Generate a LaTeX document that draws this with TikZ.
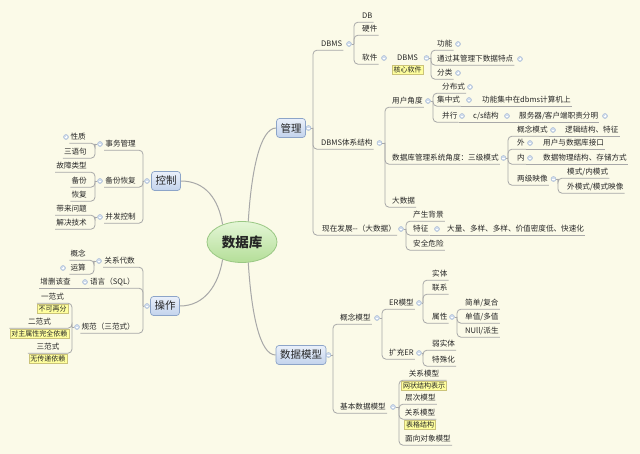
\documentclass[tikz,border=0pt]{standalone}
\usepackage{fontspec}
\setmainfont{Noto Sans CJK SC}
\usetikzlibrary{shapes.geometric}
\definecolor{bg}{HTML}{FBFAE8}
\definecolor{lnc}{HTML}{A8A8A8}
\definecolor{txt}{HTML}{262626}
\definecolor{labf}{HTML}{FFFF9E}
\definecolor{labd}{HTML}{CBC37A}
\definecolor{mtA}{HTML}{EAF0FA}
\definecolor{mtB}{HTML}{C3D3EC}
\definecolor{mtD}{HTML}{8CA4C8}
\definecolor{ctA}{HTML}{E4F6D6}
\definecolor{ctB}{HTML}{B4DE98}
\definecolor{ctD}{HTML}{9AC884}
\definecolor{ccf}{HTML}{D0DCEC}
\definecolor{ccd}{HTML}{A3B6D2}
\tikzset{
 tp/.style={font=\fontsize{7.6}{9}\selectfont, text=txt, inner xsep=1pt, inner ysep=1.5pt, text height=7pt, text depth=2pt},
 lab/.style={font=\fontsize{7}{8}\selectfont, text=txt, fill=labf, draw=labd, line width=0.5pt, inner xsep=1.5pt, inner ysep=0pt, minimum height=9pt, text height=6.5pt, text depth=1.5pt, anchor=north, yshift=-0.8pt},
 mt/.style={font=\fontsize{10.5}{12}\selectfont, text=txt, draw=mtD, line width=0.7pt, rounded corners=3pt, top color=mtA, bottom color=mtB, minimum height=19pt, inner xsep=4pt},
 ln/.style={draw=lnc, line width=0.8pt},
 sp/.style={ln, rounded corners=4pt},
 cv/.style={draw=lnc, line width=1pt},
 cmin/.style={circle, minimum size=5pt, inner sep=0pt, fill=ccf, draw=ccd, line width=0.4pt,
   path picture={\draw[white,line width=0.6pt] ([xshift=-1.4pt]path picture bounding box.center) -- ([xshift=1.4pt]path picture bounding box.center);}},
 cplus/.style={cmin,
   path picture={\draw[white,line width=0.6pt] ([xshift=-1.4pt]path picture bounding box.center) -- ([xshift=1.4pt]path picture bounding box.center) ([yshift=-1.4pt]path picture bounding box.center) -- ([yshift=1.4pt]path picture bounding box.center);}},
}
\begin{document}
\begin{tikzpicture}[x=1pt,y=-1pt]
\fill[bg] (0,0) rectangle (640,454);
\useasboundingbox (0,0) rectangle (640,454);

% ---------- central and main topics
\node[ellipse, minimum width=70pt, minimum height=41pt, draw=ctD, line width=0.8pt, top color=ctA, bottom color=ctB, font=\fontsize{13.5}{15}\selectfont\bfseries, text=txt] (c) at (242,242) {数据库};
\node[mt, minimum width=28pt] (glj) at (291,128) {管理};
\node[mt, minimum width=28pt] (kz) at (166,181) {控制};
\node[mt, minimum width=28pt] (cz) at (165,306) {操作};
\node[mt, minimum width=48pt] (sjmx) at (301,355) {数据模型};

\draw[cv] (c.73) .. controls +(3,-50) and +(-16,0) .. (glj.west);
\draw[cv] (kz.east) .. controls +(25,0) and +(-4,-25) .. (c.138);
\draw[cv] (c.222) .. controls +(-4,25) and +(25,0) .. (cz.east);
\draw[cv] (c.287) .. controls +(3,50) and +(-16,0) .. (sjmx.west);

% ---------- 管理
\node[cmin] (glj-c) at (308.5,128) {};
\coordinate (glj-s) at (313,128);
\node[tp,anchor=west] (dbms) at (320,44) {DBMS};
\node[cmin] (dbms-c) at (349,44) {};
\coordinate (dbms-s) at (354,44);
\node[tp,anchor=west] (txjg) at (320,143) {DBMS体系结构};
\node[cmin] (txjg-c) at (379.5,143) {};
\coordinate (txjg-s) at (385,143);
\node[tp,anchor=west] (xzfz) at (321,229) {现在发展-{}-（大数据）};
\node[cmin] (xzfz-c) at (401,229) {};
\coordinate (xzfz-s) at (406,229);

\node[tp,anchor=west] (db) at (361,16) {DB};
\node[tp,anchor=west] (yj) at (361,29) {硬件};
\node[tp,anchor=west] (rj) at (361,58) {软件};
\node[cmin] (rj-c) at (384,58) {};

\node[tp,minimum width=31pt] (dbms2) at (407.5,58) {DBMS};
\node[lab] (hxrj) at (dbms2.south) {核心软件};
\node[cmin] (dbms2-c) at (426.5,58) {};
\coordinate (dbms2-s) at (431,58);
\node[tp,anchor=west] (gn) at (436,44) {功能};
\node[cplus] (gn-c) at (458,44) {};
\node[tp,anchor=west] (tgq) at (436,59) {通过其管理下数据特点};
\node[cplus] (tgq-c) at (520,59) {};
\node[tp,anchor=west] (fl) at (436,73) {分类};
\node[cplus] (fl-c) at (458,73) {};

\node[tp,anchor=west] (yhjd) at (391,101) {用户角度};
\node[cmin] (yhjd-c) at (428,101) {};
\coordinate (yhjd-s) at (433,101);
\node[tp,anchor=west] (sjkgl) at (391,158) {数据库管理系统角度：三级模式};
\node[cmin] (sjkgl-c) at (503.5,158) {};
\coordinate (sjkgl-s) at (508,158);
\node[tp,anchor=west] (dsj) at (391,201) {大数据};

\node[tp,anchor=west] (fbs) at (441,87) {分布式};
\node[cplus] (fbs-c) at (470,87) {};
\node[tp,anchor=west] (jzs) at (436,100) {集中式};
\node[cmin] (jzs-c) at (469,100) {};
\node[tp,anchor=west] (gnjz) at (481,100) {功能集中在dbms计算机上};
\node[tp,anchor=west] (bx) at (441,116) {并行};
\node[cmin] (bx-c) at (462,116) {};
\node[tp,anchor=west] (cs) at (472,116) {c/s结构};
\node[cmin] (cs-c) at (507,116) {};
\node[tp,anchor=west] (fwq) at (518,116) {服务器/客户端职责分明};
\node[cplus] (fwq-c) at (605,116) {};

\node[tp,anchor=west] (gnms) at (516,130) {概念模式};
\node[cmin] (gnms-c) at (553,130) {};
\node[tp,anchor=west] (ljjg) at (564,130) {逻辑结构、特征};
\node[tp,anchor=west] (wai) at (516,143) {外};
\node[cmin] (wai-c) at (530,143) {};
\node[tp,anchor=west] (yhsj) at (542,143) {用户与数据库接口};
\node[tp,anchor=west] (nei) at (516,158) {内};
\node[cmin] (nei-c) at (530,158) {};
\node[tp,anchor=west] (sjwl) at (542,158) {数据物理结构、存储方式};
\node[tp,anchor=west] (ljys) at (516,179) {两级映像};
\node[cmin] (ljys-c) at (553.5,179) {};
\coordinate (ljys-s) at (558,179);
\node[tp,anchor=west] (msn) at (566,172) {模式/内模式};
\node[tp,anchor=west] (wms) at (566,187) {外模式/模式映像};

\node[tp,anchor=west] (csbj) at (412,215) {产生背景};
\node[tp,anchor=west] (tz) at (412,229) {特征};
\node[cmin] (tz-c) at (437,229) {};
\node[tp,anchor=west] (dl) at (446,229) {大量、多样、多样、价值密度低、快速化};
\node[tp,anchor=west] (aqwx) at (412,244) {安全危险};

\draw[ln] (glj-c.east) -- (glj-s);
\foreach \n in {dbms,txjg,xzfz} \draw[sp] (glj-s) |- (\n.south east);
\draw[ln] (dbms-c.east) -- (dbms-s);
\foreach \n in {db,yj,rj} \draw[sp] (dbms-s) |- (\n.south east);
\draw[ln] (dbms2-c.east) -- (dbms2-s);
\foreach \n in {gn,tgq,fl} \draw[sp] (dbms2-s) |- (\n.south east);
\draw[ln] (txjg-c.east) -- (txjg-s);
\foreach \n in {yhjd,sjkgl,dsj} \draw[sp] (txjg-s) |- (\n.south east);
\draw[ln] (yhjd-c.east) -- (yhjd-s);
\foreach \n in {fbs,jzs,bx} \draw[sp] (yhjd-s) |- (\n.south east);
\draw[ln] (jzs.south east) -- (gnjz.south east);
\draw[ln] (bx.south east) -- (cs.south east) -- (fwq.south east);
\draw[ln] (sjkgl-c.east) -- (sjkgl-s);
\foreach \n in {gnms,wai,nei,ljys} \draw[sp] (sjkgl-s) |- (\n.south east);
\draw[ln] (gnms.south east) -- (ljjg.south east);
\draw[ln] (wai.south east) -- (yhsj.south east);
\draw[ln] (nei.south east) -- (sjwl.south east);
\draw[ln] (ljys-c.east) -- (ljys-s);
\foreach \n in {msn,wms} \draw[sp] (ljys-s) |- (\n.south east);
\draw[ln] (xzfz-c.east) -- (xzfz-s);
\foreach \n in {csbj,tz,aqwx} \draw[sp] (xzfz-s) |- (\n.south east);
\draw[ln] (tz.south east) -- (dl.south east);

% ---------- 数据模型
\node[cmin] (sjmx-c) at (328.5,355) {};
\coordinate (sjmx-s) at (333,355);
\node[tp,anchor=west] (gnmx) at (339,318) {概念模型};
\node[cmin] (gnmx-c) at (377,318) {};
\coordinate (gnmx-s) at (382,318);
\node[tp,anchor=west] (jbsj) at (339,407) {基本数据模型};
\node[cmin] (jbsj-c) at (393,407) {};
\coordinate (jbsj-s) at (399,407);
\node[tp,anchor=west] (erm) at (388,303) {ER模型};
\node[cmin] (erm-c) at (419,303) {};
\coordinate (erm-s) at (423,303);
\node[tp,anchor=west] (kcer) at (388,353) {扩充ER};
\node[cmin] (kcer-c) at (419,353) {};
\coordinate (kcer-s) at (423,353);
\node[tp,anchor=west] (st) at (431,274) {实体};
\node[tp,anchor=west] (lx) at (431,288) {联系};
\node[tp,anchor=west] (sx) at (431,317) {属性};
\node[cmin] (sx-c) at (452,317) {};
\coordinate (sx-s) at (457,317);
\node[tp,anchor=west] (jdfh) at (464,303) {简单/复合};
\node[tp,anchor=west] (dzdz) at (464,317) {单值/多值};
\node[tp,anchor=west] (nl) at (464,331) {NUll/派生};
\node[tp,anchor=west] (rst) at (431,344) {弱实体};
\node[tp,anchor=west] (tsh) at (431,360) {特殊化};
\node[tp,minimum width=45pt] (gx1) at (424,374) {关系模型};
\node[lab] (wzjg) at (gx1.south) {网状结构表示};
\node[tp,anchor=west] (ccmx) at (404,398) {层次模型};
\node[tp,minimum width=32pt] (gx2) at (420,413) {关系模型};
\node[lab] (bgjg) at (gx2.south) {表格结构};
\node[tp,anchor=west] (mxdx) at (404,439) {面向对象模型};

\draw[ln] (sjmx-c.east) -- (sjmx-s);
\foreach \n in {gnmx,jbsj} \draw[sp] (sjmx-s) |- (\n.south east);
\draw[ln] (gnmx-c.east) -- (gnmx-s);
\foreach \n in {erm,kcer} \draw[sp] (gnmx-s) |- (\n.south east);
\draw[ln] (erm-c.east) -- (erm-s);
\foreach \n in {st,lx,sx} \draw[sp] (erm-s) |- (\n.south east);
\draw[ln] (sx-c.east) -- (sx-s);
\foreach \n in {jdfh,dzdz,nl} \draw[sp] (sx-s) |- (\n.south east);
\draw[ln] (kcer-c.east) -- (kcer-s);
\foreach \n in {rst,tsh} \draw[sp] (kcer-s) |- (\n.south east);
\draw[ln] (jbsj-c.east) -- (jbsj-s);
\foreach \n in {gx1,ccmx,gx2,mxdx} \draw[sp] (jbsj-s) |- (\n.south east);

% ---------- 控制
\node[cmin] (kz-c) at (147,181) {};
\coordinate (kz-s) at (143,181);
\node[tp,anchor=east] (swgl) at (137,144) {事务管理};
\node[cmin] (swgl-c) at (100,144) {};
\coordinate (swgl-s) at (95,144);
\node[tp,anchor=east] (bfhf) at (137,181) {备份恢复};
\node[cmin] (bfhf-c) at (100,181) {};
\coordinate (bfhf-s) at (95,181);
\node[tp,anchor=east] (bfkz) at (137,217) {并发控制};
\node[cmin] (bfkz-c) at (100,217) {};
\coordinate (bfkz-s) at (95,217);
\node[tp,anchor=east] (xz) at (87,137) {性质};
\node[cplus] (xz-c) at (66,137) {};
\node[tp,anchor=east] (syj) at (88,152) {三语句};
\node[tp,anchor=east] (gzlx) at (88,166) {故障类型};
\node[tp,anchor=east] (bf) at (88,181) {备份};
\node[tp,anchor=east] (hf) at (88,195) {恢复};
\node[tp,anchor=east] (dlwt) at (88,209) {带来问题};
\node[tp,anchor=east] (jjjs) at (88,223) {解决技术};

\draw[ln] (kz-c.west) -- (kz-s);
\foreach \n in {swgl,bfhf,bfkz} \draw[sp] (kz-s) |- (\n.south west);
\draw[ln] (swgl-c.west) -- (swgl-s);
\foreach \n in {xz,syj} \draw[sp] (swgl-s) |- (\n.south west);
\draw[ln] (bfhf-c.west) -- (bfhf-s);
\foreach \n in {gzlx,bf,hf} \draw[sp] (bfhf-s) |- (\n.south west);
\draw[ln] (bfkz-c.west) -- (bfkz-s);
\foreach \n in {dlwt,jjjs} \draw[sp] (bfkz-s) |- (\n.south west);

% ---------- 操作
\node[cmin] (cz-c) at (147,306) {};
\coordinate (cz-s) at (143,306);
\node[tp,anchor=east] (gxds) at (136,261) {关系代数};
\node[cmin] (gxds-c) at (99,261) {};
\coordinate (gxds-s) at (94,261);
\node[tp,anchor=east] (yy) at (136,282) {语言（SQL）};
\node[cmin] (yy-c) at (85,282) {};
\node[tp,anchor=east] (zsgc) at (72,282) {增删该查};
\node[tp,anchor=east] (gf) at (136,327) {规范（三范式）};
\node[cmin] (gf-c) at (77,327) {};
\coordinate (gf-s) at (72,327);
\node[tp,anchor=east] (gn2) at (87,254) {概念};
\node[tp,anchor=east] (ys) at (87,268) {运算};
\node[cplus] (ys-c) at (63,268) {};
\node[tp,minimum width=31pt] (yfs) at (52.5,297) {一范式};
\node[lab] (bkzf) at (yfs.south) {不可再分};
\node[tp,minimum width=60pt] (efs) at (39.5,322) {二范式};
\node[lab] (dzsx) at (efs.south) {对主属性完全依赖};
\node[tp,minimum width=40pt] (sfs) at (48,347) {三范式};
\node[lab] (wcd) at (sfs.south) {无传递依赖};

\draw[ln] (cz-c.west) -- (cz-s);
\foreach \n in {gxds,yy,gf} \draw[sp] (cz-s) |- (\n.south west);
\draw[ln] (yy.south west) -- (zsgc.south west);
\draw[ln] (gxds-c.west) -- (gxds-s);
\foreach \n in {gn2,ys} \draw[sp] (gxds-s) |- (\n.south west);
\draw[ln] (gf-c.west) -- (gf-s);
\foreach \n in {yfs,efs,sfs} \draw[sp] (gf-s) |- (\n.south west);
\end{tikzpicture}
\end{document}
